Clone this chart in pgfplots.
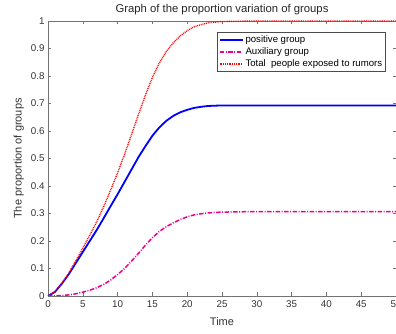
\documentclass[border=0pt]{standalone}
\usepackage{pgfplots}
\pgfplotsset{compat=1.18}
\usepackage{fontspec}
\setmainfont{Liberation Sans}
\definecolor{axgray}{gray}{0.45}
\definecolor{txtgray}{gray}{0.2}
\begin{document}
\begin{tikzpicture}
\begin{axis}[
  at={(0pt,0pt)}, anchor=south west,
  scale only axis,
  width=348pt, height=275pt,
  xmin=0, xmax=50, ymin=0, ymax=1,
  xtick={0,5,...,50},
  ytick={0,0.1,...,1},
  yticklabels={0,0.1,0.2,0.3,0.4,0.5,0.6,0.7,0.8,0.9,1},
  tick align=inside,
  major tick length=3.5pt,
  axis line style={axgray, line width=0.6pt},
  every tick/.style={axgray, line width=0.5pt},
  tick label style={font=\fontsize{9.8}{11}\selectfont, text=txtgray},
  xticklabel style={yshift=-1.5pt},
  /pgf/number format/assume math mode=true,
  title={Graph of the proportion variation of groups},
  title style={font=\fontsize{11.3}{13}\selectfont, text=black!85, yshift=-3pt},
  xlabel={Time},
  ylabel={The proportion of groups},
  label style={font=\fontsize{11}{13}\selectfont, text=txtgray},
  xlabel style={yshift=-3pt},
  ylabel style={yshift=0pt},
  legend style={
    at={(rel axis cs:0.971,0.96)}, anchor=north east,
    draw=black!70, line width=0.5pt,
    font=\fontsize{9.6}{11}\selectfont,
    inner sep=1.5pt, row sep=-0.5pt,
    legend cell align=left,
  },
  legend image code/.code={\draw[#1] (0pt,0pt) -- (23pt,0pt);},
]
\addplot[blue, line width=1.8pt] coordinates {
(0,0) (1,0.015) (2,0.045) (3,0.08) (4,0.12) (5,0.16) (6,0.2) (7,0.24) (8,0.283) (9,0.327) (10,0.37) (11,0.415) (12,0.46) (13,0.505) (14,0.545) (15,0.583) (16,0.613) (17,0.637) (18,0.655) (19,0.668) (20,0.677) (21,0.684) (22,0.688) (23,0.691) (24,0.692) (25,0.693) (30,0.693) (40,0.693) (50,0.693)
};
\addlegendentry{positive group}
\addplot[magenta, line width=1.5pt, dash pattern=on 4.5pt off 1.5pt on 1pt off 1.5pt] coordinates {
(0,0) (1,0.0005) (2,0.002) (3,0.004) (4,0.008) (5,0.014) (6,0.021) (7,0.03) (8,0.042) (9,0.058) (10,0.078) (11,0.1) (12,0.127) (13,0.155) (14,0.185) (15,0.212) (16,0.235) (17,0.252) (18,0.266) (19,0.278) (20,0.288) (21,0.295) (22,0.299) (23,0.302) (24,0.304) (25,0.305) (27,0.306) (30,0.307) (40,0.307) (50,0.307)
};
\addlegendentry{Auxiliary group}
\addplot[red, line width=1.4pt, dash pattern=on 0.9pt off 0.9pt] coordinates {
(0,0) (1,0.0155) (2,0.047) (3,0.084) (4,0.128) (5,0.174) (6,0.221) (7,0.27) (8,0.325) (9,0.385) (10,0.448) (11,0.515) (12,0.587) (13,0.66) (14,0.73) (15,0.795) (16,0.848) (17,0.889) (18,0.921) (19,0.946) (20,0.965) (21,0.979) (22,0.987) (23,0.993) (24,0.996) (25,0.998) (27,0.999) (30,1.0) (40,1.0) (50,1.0)
};
\addlegendentry{Total\ \ people exposed to rumors}
\end{axis}
\pgfresetboundingbox
\useasboundingbox (-48pt,-38pt) rectangle (348pt,296pt);
\end{tikzpicture}
\end{document}
